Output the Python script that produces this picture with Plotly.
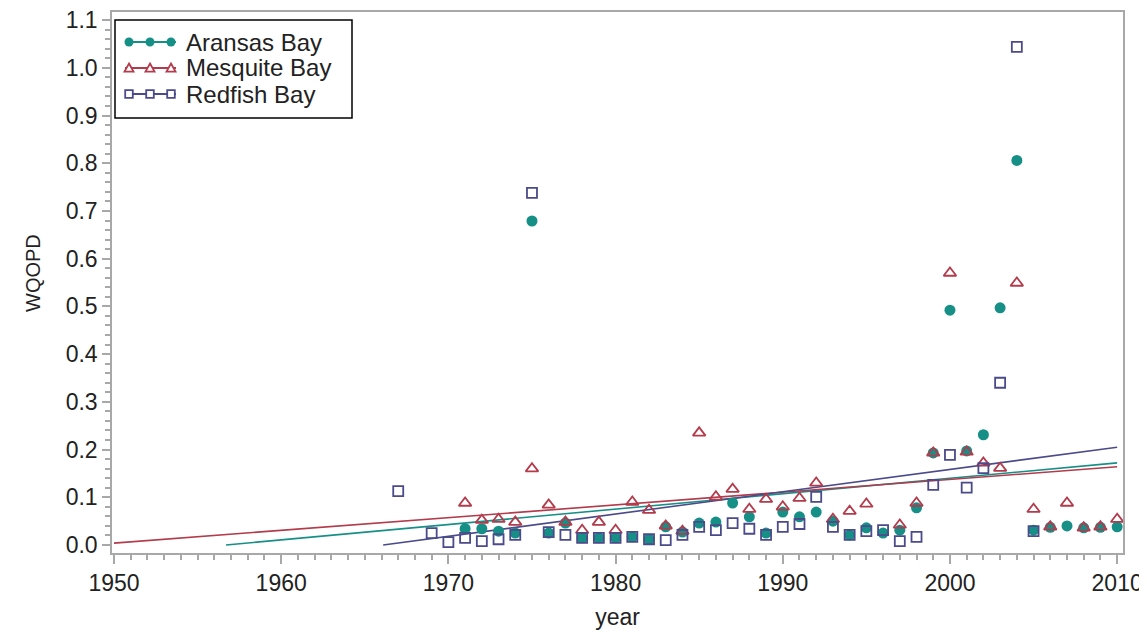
import plotly.graph_objects as go

# ---- data ----
aransas_years = [1971, 1972, 1973, 1974, 1975, 1976, 1977, 1978, 1979, 1980,
                 1981, 1982, 1983, 1984, 1985, 1986, 1987, 1988, 1989, 1990,
                 1991, 1992, 1993, 1994, 1995, 1996, 1997, 1998, 1999, 2000,
                 2001, 2002, 2003, 2004, 2005, 2006, 2007, 2008, 2009, 2010]
aransas_wqopd = [0.034, 0.034, 0.029, 0.025, 0.679, 0.025, 0.046, 0.015, 0.015, 0.015,
                 0.017, 0.012, 0.038, 0.027, 0.046, 0.048, 0.088, 0.059, 0.025, 0.069,
                 0.059, 0.069, 0.050, 0.021, 0.036, 0.025, 0.031, 0.078, 0.193, 0.492,
                 0.197, 0.231, 0.497, 0.806, 0.031, 0.037, 0.040, 0.036, 0.037, 0.038]

mesquite_years = [1971, 1972, 1973, 1974, 1975, 1976, 1977, 1978, 1979, 1980,
                  1981, 1982, 1983, 1984, 1985, 1986, 1987, 1988, 1989, 1990,
                  1991, 1992, 1993, 1994, 1995, 1997, 1998, 1999, 2000,
                  2001, 2002, 2003, 2004, 2005, 2006, 2007, 2008, 2009, 2010]
mesquite_wqopd = [0.088, 0.052, 0.054, 0.048, 0.160, 0.084, 0.048, 0.031, 0.048, 0.031,
                  0.090, 0.073, 0.040, 0.029, 0.235, 0.101, 0.117, 0.075, 0.096, 0.080,
                  0.098, 0.130, 0.054, 0.071, 0.086, 0.042, 0.088, 0.193, 0.570,
                  0.195, 0.172, 0.161, 0.549, 0.075, 0.038, 0.088, 0.036, 0.038, 0.054]

redfish_years = [1967, 1969, 1970, 1971, 1972, 1973, 1974, 1975, 1976, 1977,
                 1978, 1979, 1980, 1981, 1982, 1983, 1984, 1985, 1986, 1987,
                 1988, 1989, 1990, 1991, 1992, 1993, 1994, 1995, 1996, 1997,
                 1998, 1999, 2000, 2001, 2002, 2003, 2004, 2005]
redfish_wqopd = [0.113, 0.025, 0.006, 0.015, 0.008, 0.012, 0.021, 0.738, 0.027, 0.021,
                 0.015, 0.015, 0.015, 0.017, 0.012, 0.010, 0.021, 0.038, 0.031, 0.046,
                 0.034, 0.021, 0.038, 0.044, 0.101, 0.038, 0.021, 0.029, 0.031, 0.008,
                 0.017, 0.126, 0.189, 0.120, 0.161, 0.340, 1.044, 0.029]

# trend-line end points (year, value)
aransas_fit_x = [1956.7, 2010]
aransas_fit_y = [0.0, 0.172]
mesquite_fit_x = [1950, 2010]
mesquite_fit_y = [0.004, 0.164]
redfish_fit_x = [1966.1, 2010]
redfish_fit_y = [0.0, 0.205]

series_names = ["Aransas Bay", "Mesquite Bay", "Redfish Bay"]
x_ticks = [1950, 1960, 1970, 1980, 1990, 2000, 2010]
y_ticks = [0.0, 0.1, 0.2, 0.3, 0.4, 0.5, 0.6, 0.7, 0.8, 0.9, 1.0, 1.1]
x_title = "year"
y_title = "WQOPD"

# ---- styles ----
TEAL = "#168f87"
RED = "#b23b4c"
PURPLE = "#4b4a8a"
AXIS = "#a8a8a8"
TXT = "#222222"
FONT = "Liberation Sans, Arial, sans-serif"
FS = 23

# page body adds an 8px offset, so the figure is sized to fit the window
W, H = 1139, 631
ML, MR, MT, MB = 104, 24, 4, 86
PW, PH = W - ML - MR, H - MT - MB


def px_x(p):
    return (p - ML) / PW


def px_y(p):
    return (H - MB - p) / PH


fig = go.Figure()

# fit lines
for fx, fy, col in [(aransas_fit_x, aransas_fit_y, TEAL),
                    (mesquite_fit_x, mesquite_fit_y, RED),
                    (redfish_fit_x, redfish_fit_y, PURPLE)]:
    fig.add_trace(go.Scatter(x=fx, y=fy, mode="lines", line=dict(color=col, width=1.6),
                             showlegend=False, hoverinfo="skip"))

# markers
fig.add_trace(go.Scatter(x=aransas_years, y=aransas_wqopd, mode="markers", showlegend=False,
                         name=series_names[0],
                         marker=dict(symbol="circle", size=11, color=TEAL, line=dict(width=0))))
fig.add_trace(go.Scatter(x=mesquite_years, y=mesquite_wqopd, mode="markers", showlegend=False,
                         name=series_names[1],
                         marker=dict(symbol="triangle-up-open", size=11, color=RED,
                                     line=dict(width=1.8, color=RED))))
fig.add_trace(go.Scatter(x=redfish_years, y=redfish_wqopd, mode="markers", showlegend=False,
                         name=series_names[2],
                         marker=dict(symbol="square-open", size=10, color=PURPLE,
                                     line=dict(width=1.8, color=PURPLE))))

# ---- legend (frame, glyphs and text) ----
shapes = []
annotations = []
shapes.append(dict(type="rect", xref="paper", yref="paper",
                   x0=px_x(107), x1=px_x(344), y0=px_y(110), y1=px_y(12),
                   line=dict(color="black", width=1.5), fillcolor="white", layer="above"))
leg_rows = [34, 60, 86]
leg_syms = ["circle", "triangle", "square"]
leg_cols = [TEAL, RED, PURPLE]
for name, sym, col, cy in zip(series_names, leg_syms, leg_cols, leg_rows):
    shapes.append(dict(type="line", xref="paper", yref="paper",
                       x0=px_x(117), x1=px_x(168), y0=px_y(cy), y1=px_y(cy),
                       line=dict(color=col, width=2), layer="above"))
    for cx in (121, 142, 163):
        if sym == "circle":
            r = 4.5
            shapes.append(dict(type="circle", xref="paper", yref="paper",
                               x0=px_x(cx - r), x1=px_x(cx + r), y0=px_y(cy + r), y1=px_y(cy - r),
                               line=dict(color=col, width=0), fillcolor=col, layer="above"))
        elif sym == "square":
            r = 3.8
            shapes.append(dict(type="rect", xref="paper", yref="paper",
                               x0=px_x(cx - r), x1=px_x(cx + r), y0=px_y(cy + r), y1=px_y(cy - r),
                               line=dict(color=col, width=1.8), fillcolor="white", layer="above"))
        else:
            r = 4.5
            path = "M {:.5f},{:.5f} L {:.5f},{:.5f} L {:.5f},{:.5f} Z".format(
                px_x(cx), px_y(cy - r), px_x(cx + r), px_y(cy + r * 0.8),
                px_x(cx - r), px_y(cy + r * 0.8))
            shapes.append(dict(type="path", xref="paper", yref="paper", path=path,
                               line=dict(color=col, width=1.8), fillcolor="white", layer="above"))
    annotations.append(dict(xref="paper", yref="paper", x=px_x(176), y=px_y(cy),
                            xanchor="left", yanchor="middle", showarrow=False, text=name,
                            font=dict(family=FONT, size=24, color=TXT)))

# y-axis title
annotations.append(dict(xref="paper", yref="paper", x=px_x(25), y=px_y(265),
                        xanchor="center", yanchor="middle", showarrow=False, text=y_title,
                        textangle=-90, font=dict(family=FONT, size=20, color=TXT)))

fig.update_layout(
    width=W, height=H,
    margin=dict(l=ML, r=MR, t=MT, b=MB, autoexpand=False),
    plot_bgcolor="white", paper_bgcolor="white",
    font=dict(family=FONT, size=FS, color=TXT),
    showlegend=False,
    shapes=shapes, annotations=annotations,
    xaxis=dict(range=[1949.88, 2010.35], tickvals=x_ticks,
               ticktext=[str(v) for v in x_ticks], automargin=False,
               ticklabeloverflow="allow",
               showgrid=False, zeroline=False, showline=True, linecolor=AXIS, linewidth=1.5,
               mirror=True, ticks="outside", ticklen=9, tickwidth=1.5, tickcolor=AXIS,
               tickfont=dict(size=FS, color=TXT),
               minor=dict(dtick=1, tick0=1950, ticks="outside", ticklen=5, tickwidth=1.5,
                          tickcolor=AXIS, showgrid=False),
               title=dict(text=x_title, font=dict(size=FS, color=TXT), standoff=14)),
    yaxis=dict(range=[-0.0168, 1.117], tickvals=y_ticks,
               ticktext=["%.1f" % v for v in y_ticks], automargin=False,
               ticklabeloverflow="allow",
               showgrid=False, zeroline=False, showline=True, linecolor=AXIS, linewidth=1.5,
               mirror=True, ticks="outside", ticklen=8, tickwidth=1.5, tickcolor=AXIS,
               tickfont=dict(size=FS, color=TXT),
               minor=dict(dtick=0.02, tick0=0, ticks="outside", ticklen=5, tickwidth=1.5,
                          tickcolor=AXIS, showgrid=False)),
)

fig.write_html("out.html")
